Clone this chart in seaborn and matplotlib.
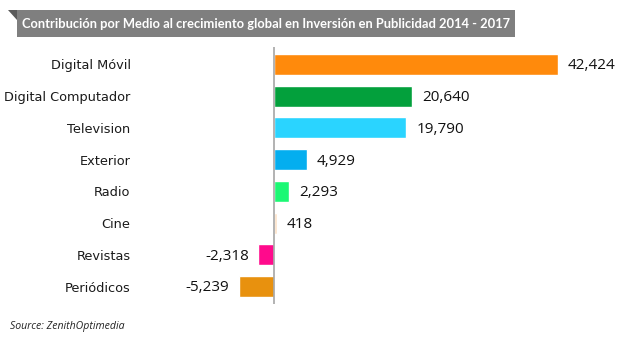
import matplotlib
matplotlib.use("Agg")
import matplotlib.pyplot as plt
import seaborn as sns
import pandas as pd
from matplotlib.patches import Rectangle, Polygon

categories = ["Digital Móvil", "Digital Computador", "Television", "Exterior",
              "Radio", "Cine", "Revistas", "Periódicos"]
values = [42424, 20640, 19790, 4929, 2293, 418, -2318, -5239]
labels = ["42,424", "20,640", "19,790", "4,929", "2,293", "418", "-2,318", "-5,239"]
colors = ["#FF8A0C", "#03A03C", "#2AD4FF", "#04AEEF", "#1CF874", "#FCE2C8", "#FF0A8C", "#E8910E"]

title = "Contribución por Medio al crecimiento global en Inversión en Publicidad 2014 - 2017"
source = "Source: ZenithOptimedia"

sns.set_theme(style="white")
W, H = 630, 342
fig = plt.figure(figsize=(W / 100, H / 100), dpi=100)

# axes placement (pixels)
ax_left, ax_right, ax_top, ax_bottom = 175, 620, 47, 304
ax = fig.add_axes([ax_left / W, 1 - ax_bottom / H, (ax_right - ax_left) / W, (ax_bottom - ax_top) / H])

df = pd.DataFrame({"cat": categories, "val": values})
sns.barplot(data=df, x="val", y="cat", hue="cat", palette=dict(zip(categories, colors)),
            width=0.66, legend=False, ax=ax, orient="h", saturation=1)

zero_px = 274
scale = (558 - 274) / 42424
ax.set_xlim((ax_left - zero_px) / scale, (ax_right - zero_px) / scale)
ax.set_ylim(len(categories) - 0.45, -0.55)

for s in ax.spines.values():
    s.set_visible(False)
ax.axvline(0, color="#A6A6A6", lw=1.2)
ax.set_xticks([])
ax.set_xlabel("")
ax.set_ylabel("")
ax.tick_params(axis="y", length=0, pad=32)
for t in ax.get_yticklabels():
    t.set_fontsize(9.3)
    t.set_color("#1a1a1a")

for i, (v, lab) in enumerate(zip(values, labels)):
    ax.annotate(lab, xy=(v, i), xytext=(7 if v >= 0 else -7, -1),
                textcoords="offset points", va="center",
                ha="left" if v >= 0 else "right",
                fontsize=11, family="Open Sans", color="#111111")

# title banner
fig.patches.append(Polygon([(8 / W, 1 - 10 / H), (17 / W, 1 - 10 / H), (17 / W, 1 - 20 / H)],
                           closed=True, transform=fig.transFigure, facecolor="#5A5A5A",
                           edgecolor="none"))
fig.patches.append(Rectangle((17 / W, 1 - 37 / H), (515 - 17) / W, 27 / H,
                             transform=fig.transFigure, facecolor="#7F7F7F", edgecolor="none"))
ttl = fig.text(22 / W, 1 - 24 / H, title, color="white", fontsize=10, fontweight="bold",
               va="center", ha="left", family="Lato")
# fit title to banner width (~486 px)
renderer = fig.canvas.get_renderer()
w = ttl.get_window_extent(renderer).width
ttl.set_fontsize(10 * 486 / w)

fig.text(10 / W, 1 - 327 / H, source, fontsize=7.6, style="italic", color="#222222",
         va="center", ha="left", family="Open Sans")

fig.savefig("out.png", dpi=100)
